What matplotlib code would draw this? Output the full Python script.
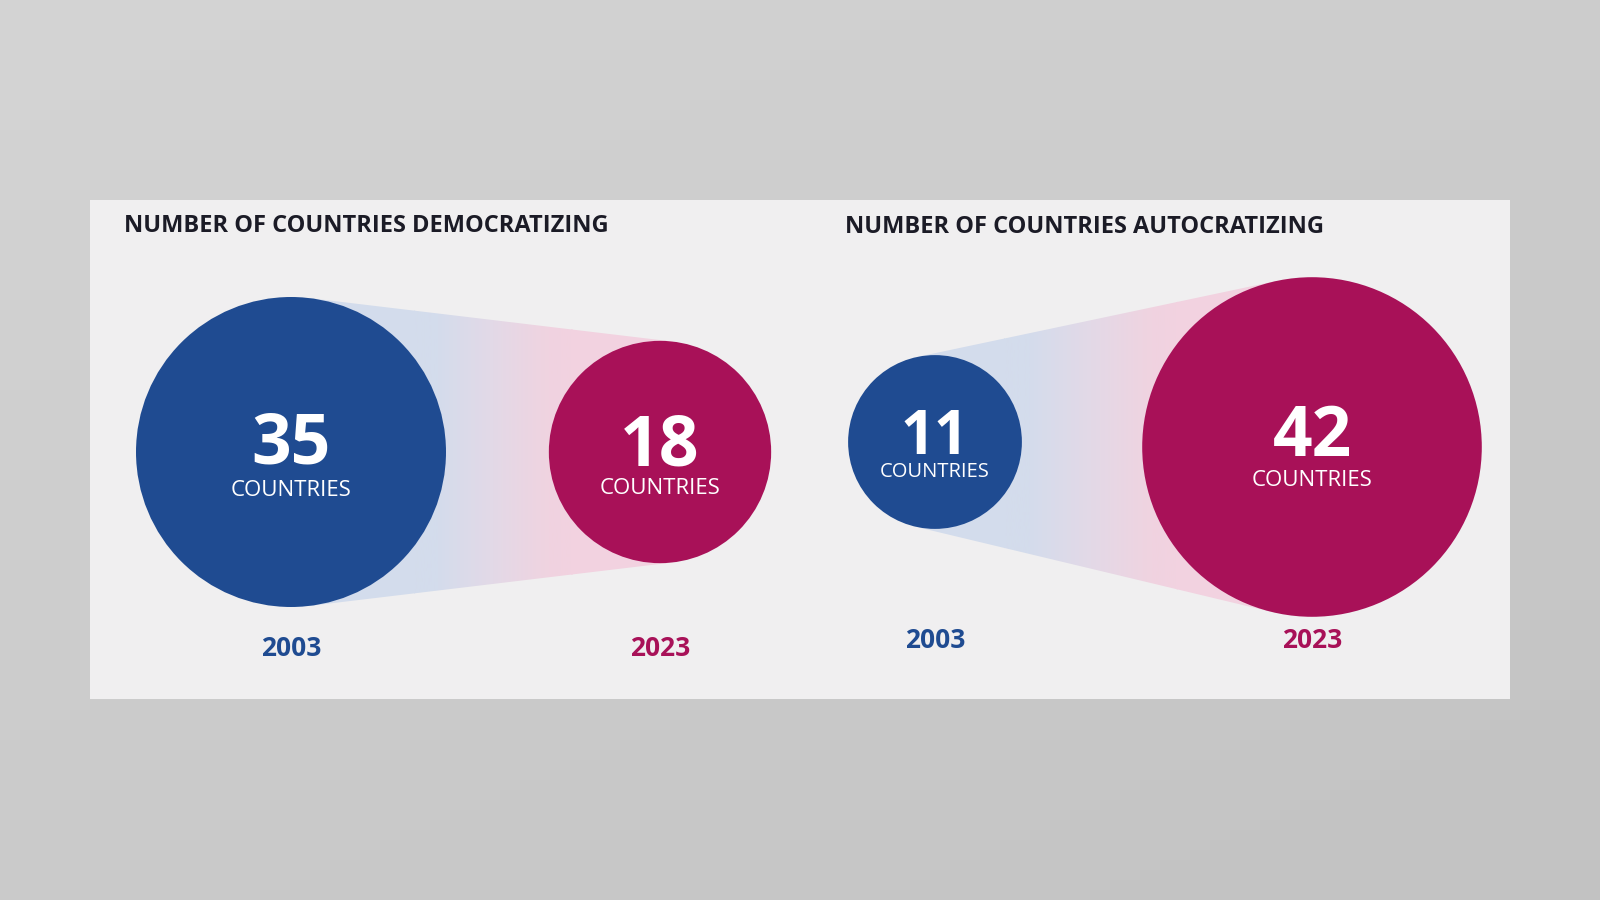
import numpy as np
import matplotlib.pyplot as plt
from matplotlib.patches import Circle, Rectangle, Polygon
from matplotlib.colors import LinearSegmentedColormap

# data
panel_titles = ['NUMBER OF COUNTRIES DEMOCRATIZING', 'NUMBER OF COUNTRIES AUTOCRATIZING']
years = ['2003', '2023']
counts_2003 = [35, 11]
counts_2023 = [18, 42]

# layout (pixel space of a 1600x900 canvas)
W, H = 1600, 900
scale_k = 26.2                      # radius = k * sqrt(count)
centers_x = [(291, 660), (935, 1312)]
centers_y = [(452, 452), (442, 447)]
year_y = [648, 641]
title_pos = [(124, 226), (845, 227)]
num_dy = [(-6, -5), (-3, -9)]
lab_dy = [(38, 37), (30, 33)]
num_size = [(50, 50), (43, 50)]
lab_size = [(16, 16), (14.5, 16)]

BLUE = '#1f4b91'
MAGENTA = '#a81158'
PANEL = '#f0eff0'
FONT = 'Open Sans'

fig = plt.figure(figsize=(16, 9), dpi=100)
ax = fig.add_axes([0, 0, 1, 1])

# grey backdrop, lighter toward the upper left
yy, xx = np.mgrid[0:1:90j, 0:1:160j]
shade = 0.83 - 0.03 * xx - 0.04 * yy
ax.imshow(shade, cmap='gray', vmin=0, vmax=1, extent=[0, W, H, 0], aspect='auto', zorder=0)

ax.add_patch(Rectangle((90, 200), 1420, 499, facecolor=PANEL, edgecolor='none', zorder=1))

cone_cmap = LinearSegmentedColormap.from_list(
    'cone', [(0, '#d3dcec'), (0.15, '#d4dcec'), (0.5, '#e3d9e7'), (0.85, '#f0d3e0'), (1, '#f2d2e0')])


def tangent_hull(c1, r1, c2, r2):
    c1 = np.asarray(c1, float)
    c2 = np.asarray(c2, float)
    d = c2 - c1
    dist = np.hypot(*d)
    phi = np.arctan2(d[1], d[0])
    alpha = np.arccos((r1 - r2) / dist)
    pts = []
    for s in (1, -1):
        u = np.array([np.cos(phi + s * alpha), np.sin(phi + s * alpha)])
        pts.append((c1 + r1 * u, c2 + r2 * u))
    return [pts[0][0], pts[0][1], pts[1][1], pts[1][0]]


for i in range(2):
    vals = [counts_2003[i], counts_2023[i]]
    radii = [scale_k * np.sqrt(v) for v in vals]
    cx, cy = centers_x[i], centers_y[i]

    # gradient band joining the two circles
    hull = tangent_hull((cx[0], cy[0]), radii[0], (cx[1], cy[1]), radii[1])
    poly = Polygon(hull, closed=True, facecolor='none', edgecolor='none')
    ax.add_patch(poly)
    x0 = cx[0] + radii[0] * 0.8
    x1 = cx[1] - radii[1] * 0.8
    grad = np.linspace(0, 1, 256)[None, :]
    im = ax.imshow(grad, cmap=cone_cmap, extent=[x0 - 1, x1 + 1, H, 0],
                   aspect='auto', zorder=2)
    im.set_clip_path(poly)
    # flat colour left and right of the gradient strip
    for xa, xb, col in [(0, x0, '#d3dcec'), (x1, W, '#f2d2e0')]:
        r = Rectangle((xa, 0), xb - xa, H, facecolor=col, edgecolor='none', zorder=2)
        ax.add_patch(r)
        r.set_clip_path(poly)

    for j, (v, r) in enumerate(zip(vals, radii)):
        col = BLUE if j == 0 else MAGENTA
        ax.add_patch(Circle((cx[j], cy[j]), r, facecolor=col, edgecolor='none', zorder=3))
        ax.text(cx[j], cy[j] + num_dy[i][j], str(v), color='white', fontsize=num_size[i][j],
                fontweight='bold', family=FONT, ha='center', va='center', zorder=4)
        ax.text(cx[j], cy[j] + lab_dy[i][j], 'COUNTRIES', color='white', fontsize=lab_size[i][j],
                family=FONT, ha='center', va='center', zorder=4)
        ax.text(cx[j], year_y[i], years[j], color=col, fontsize=19, fontweight='bold',
                family=FONT, ha='center', va='center', zorder=4)

    ax.text(title_pos[i][0], title_pos[i][1], panel_titles[i], color='#1b1b26', fontsize=17,
            fontweight='bold', family=FONT, ha='left', va='center', zorder=4)

ax.set_xlim(0, W)
ax.set_ylim(H, 0)
ax.axis('off')
fig.savefig('out.png', dpi=100)
